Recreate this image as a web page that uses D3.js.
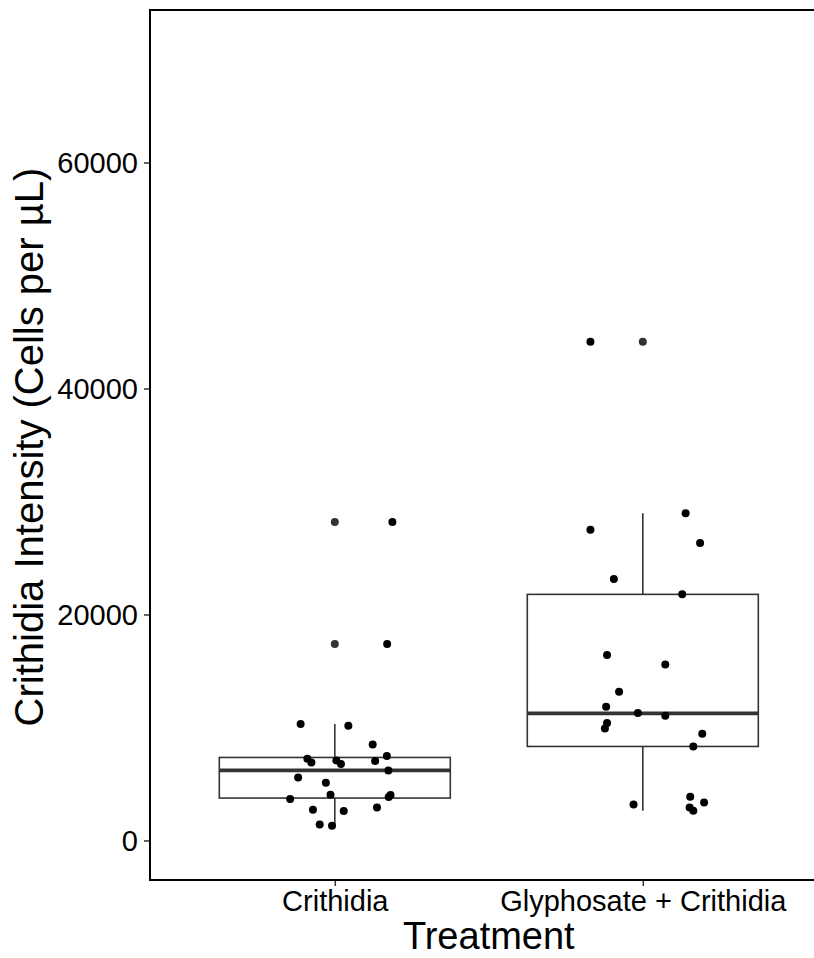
<!DOCTYPE html>
<html>
<head>
<meta charset="utf-8">
<script src="https://cdn.jsdelivr.net/npm/d3@7"></script>
<style>
  html, body { margin: 0; padding: 0; background: #ffffff; }
  svg { display: block; }
  text { font-family: "Liberation Sans", Arial, sans-serif; }
</style>
</head>
<body>
<div id="chart"></div>
<script>
// ---------- data ----------
const categories = ["Crithidia", "Glyphosate + Crithidia"];

// box statistics
const boxQ1      = [3752, 8319];
const boxMedian  = [6195, 11250];
const boxQ3      = [7345, 21780];
const whiskerLow = [1300, 2630];
const whiskerHigh= [10300, 28970];
const outliers   = [[17380, 28180], [44130]];

// jittered observations: value and horizontal jitter (in category units)
const crithidiaValues = [28180, 17380, 10300, 10150, 8500, 7470, 7230, 6900, 7080, 6760, 7030, 6195,
  5575, 5105, 4045, 3665, 3840, 4020, 2715, 2600, 2920, 1415, 1300];
const crithidiaJitter = [0.187, 0.170, -0.111, 0.044, 0.123, 0.169, -0.089, -0.076, 0.005, 0.020, 0.131, 0.174,
  -0.119, -0.029, -0.014, -0.145, 0.175, 0.181, -0.071, 0.029, 0.137, -0.049, -0.009];

const glyphosateValues = [44130, 28970, 27500, 26320, 23130, 21800, 16410, 15575, 13160, 11830, 11275, 11035,
  10390, 9910, 9440, 8320, 3865, 3365, 3185, 2920, 2630];
const glyphosateJitter = [-0.170, 0.139, -0.170, 0.186, -0.094, 0.128, -0.116, 0.073, -0.077, -0.119, -0.016, 0.073,
  -0.116, -0.123, 0.193, 0.164, 0.154, 0.199, -0.030, 0.152, 0.164];

const yTicks = [0, 20000, 40000, 60000];
const yDomain = [0, 70000];
const xTitle = "Treatment";
const yTitle = "Crithidia Intensity (Cells per µL)";

// ---------- layout ----------
const W = 814, H = 958;
const panel = { left: 150, top: 10, bottom: 880 };
const unit = 308;              // pixel width of one category slot
const panelRight = panel.left + 2.2 * unit;

const svg = d3.select("#chart").append("svg")
  .attr("width", W).attr("height", H)
  .attr("viewBox", `0 0 ${W} ${H}`);

const yPad = (yDomain[1] - yDomain[0]) * 0.05;
const y = d3.scaleLinear()
  .domain([yDomain[0] - yPad, yDomain[1] + yPad])
  .range([panel.bottom, panel.top]);

const x = d3.scaleLinear()
  .domain([0.4, 2.6])
  .range([panel.left, panelRight]);

const boxW = 0.75;
const grey = "#333333";

// ---------- boxes ----------
const boxes = categories.map((c, i) => ({
  c, i: i + 1,
  q1: boxQ1[i], med: boxMedian[i], q3: boxQ3[i],
  lo: whiskerLow[i], hi: whiskerHigh[i], out: outliers[i]
}));

const g = svg.append("g");

boxes.forEach(b => {
  // whiskers
  g.append("line")
    .attr("x1", x(b.i)).attr("x2", x(b.i))
    .attr("y1", y(b.q3)).attr("y2", y(b.hi))
    .attr("stroke", grey).attr("stroke-width", 1.6);
  g.append("line")
    .attr("x1", x(b.i)).attr("x2", x(b.i))
    .attr("y1", y(b.q1)).attr("y2", y(b.lo))
    .attr("stroke", grey).attr("stroke-width", 1.6);
  // box
  g.append("rect")
    .attr("x", x(b.i - boxW / 2))
    .attr("width", x(b.i + boxW / 2) - x(b.i - boxW / 2))
    .attr("y", y(b.q3))
    .attr("height", y(b.q1) - y(b.q3))
    .attr("fill", "#ffffff")
    .attr("stroke", grey).attr("stroke-width", 1.6);
  // median
  g.append("line")
    .attr("x1", x(b.i - boxW / 2)).attr("x2", x(b.i + boxW / 2))
    .attr("y1", y(b.med)).attr("y2", y(b.med))
    .attr("stroke", grey).attr("stroke-width", 3.8);
  // outliers
  g.selectAll(null).data(b.out).enter().append("circle")
    .attr("cx", x(b.i)).attr("cy", d => y(d))
    .attr("r", 4).attr("fill", grey);
});

// ---------- jittered points ----------
const pts = [];
crithidiaValues.forEach((v, k) => pts.push({ i: 1, v, j: crithidiaJitter[k] }));
glyphosateValues.forEach((v, k) => pts.push({ i: 2, v, j: glyphosateJitter[k] }));

g.selectAll(".pt").data(pts).enter().append("circle")
  .attr("class", "pt")
  .attr("cx", d => x(d.i + d.j))
  .attr("cy", d => y(d.v))
  .attr("r", 4)
  .attr("fill", "#000000");

// ---------- axes ----------
const yAxis = svg.append("g")
  .attr("transform", `translate(${panel.left},0)`)
  .call(d3.axisLeft(y).tickValues(yTicks).tickSize(6).tickPadding(6).tickFormat(d3.format("d")));
yAxis.select(".domain").remove();
yAxis.selectAll(".tick line").attr("stroke", grey).attr("stroke-width", 1.5);
yAxis.selectAll(".tick text")
  .attr("fill", "#000").style("font-size", "29px")
  .attr("dy", "0.36em");

const xAxis = svg.append("g")
  .attr("transform", `translate(0,${panel.bottom})`)
  .call(d3.axisBottom(x).tickValues([1, 2]).tickSize(6).tickPadding(4)
    .tickFormat(d => categories[d - 1]));
xAxis.select(".domain").remove();
xAxis.selectAll(".tick line").attr("stroke", grey).attr("stroke-width", 1.5);
xAxis.selectAll(".tick text")
  .attr("fill", "#000").style("font-size", "29px")
  .attr("dy", "0.71em");

// axis lines
svg.append("line")
  .attr("x1", panel.left).attr("x2", panel.left)
  .attr("y1", panel.top).attr("y2", panel.bottom + 1)
  .attr("stroke", "#000").attr("stroke-width", 2);
svg.append("line")
  .attr("x1", panel.left - 1).attr("x2", W)
  .attr("y1", panel.bottom).attr("y2", panel.bottom)
  .attr("stroke", "#000").attr("stroke-width", 2);
svg.append("line")
  .attr("x1", panel.left - 1).attr("x2", W)
  .attr("y1", panel.top).attr("y2", panel.top)
  .attr("stroke", "#000").attr("stroke-width", 2);

// titles
svg.append("text")
  .attr("x", (panel.left + panelRight) / 2)
  .attr("y", 949)
  .attr("text-anchor", "middle")
  .style("font-size", "38px")
  .attr("fill", "#000")
  .text(xTitle);

svg.append("text")
  .attr("transform", `translate(43,${(panel.top + panel.bottom) / 2 + 2}) rotate(-90)`)
  .attr("text-anchor", "middle")
  .style("font-size", "40px")
  .attr("fill", "#000")
  .text(yTitle);
</script>
</body>
</html>
